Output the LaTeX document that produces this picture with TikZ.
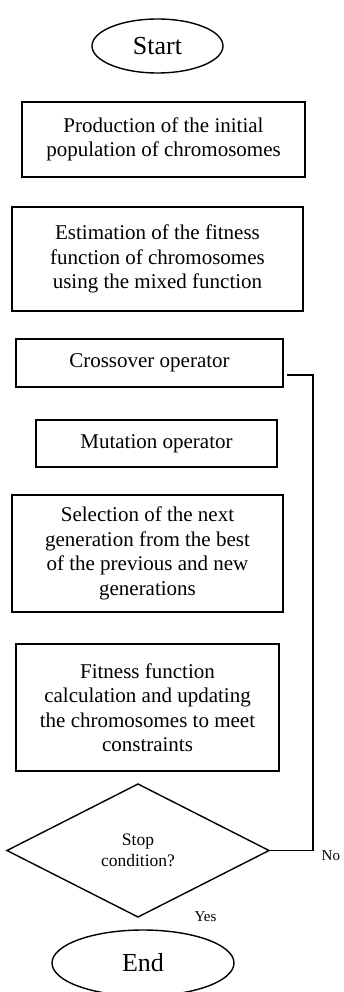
\documentclass[tikz,border=0pt]{standalone}
\usepackage{fontspec}
\setmainfont{Liberation Serif}
\usetikzlibrary{shapes.geometric}
\tikzset{
  boxnode/.style={draw, line width=1.4pt, align=center, inner sep=0pt, outer sep=0pt,
    font=\fontsize{21}{24.5}\selectfont},
  termnode/.style={draw, ellipse, line width=1.4pt, inner sep=0pt, outer sep=0pt,
    font=\fontsize{26}{30}\selectfont},
  decnode/.style={draw, diamond, line width=1.4pt, inner sep=0pt, outer sep=0pt, align=center,
    font=\fontsize{17.5}{21}\selectfont},
  lbl/.style={inner sep=0pt, font=\fontsize{15}{18}\selectfont},
  loopline/.style={line width=1.4pt}
}
\begin{document}
\begin{tikzpicture}[x=1pt,y=-1pt]
\useasboundingbox (0,0) rectangle (344,992);
\node[termnode, minimum width=131pt, minimum height=54pt] (start) at (157.5,46) {Start};
\node[boxnode, minimum width=283pt, minimum height=75pt] (init) at (163.5,139.5)
  {Production of the initial\\population of chromosomes};
\node[boxnode, minimum width=291pt, minimum height=104pt] (est) at (157.5,259)
  {Estimation of the fitness\\function of chromosomes\\using the mixed function};
\node[boxnode, minimum width=267pt, minimum height=48pt] (cross) at (149.5,363)
  {Crossover operator};
\node[boxnode, minimum width=241pt, minimum height=47pt] (mut) at (156.5,443.5)
  {Mutation operator};
\node[boxnode, minimum width=271pt, minimum height=117pt] (sel) at (147.5,553.5)
  {Selection of the next\\generation from the best\\of the previous and new\\generations};
\node[boxnode, minimum width=263pt, minimum height=127pt] (fit) at (147.5,707.5)
  {Fitness function\\calculation and updating\\the chromosomes to meet\\constraints};
\node[decnode, minimum width=262pt, minimum height=133pt] (stop) at (138,850.5)
  {Stop\\condition?};
\node[termnode, minimum width=182pt, minimum height=66pt] (end) at (143,963) {End};
\coordinate (loopend) at (287,375);
\draw[loopline] (stop.east) -| (313,375) -- (loopend);
\node[lbl, anchor=west] (no) at (321.5,856) {No};
\node[lbl] (yes) at (205.5,917) {Yes};
\end{tikzpicture}
\end{document}
